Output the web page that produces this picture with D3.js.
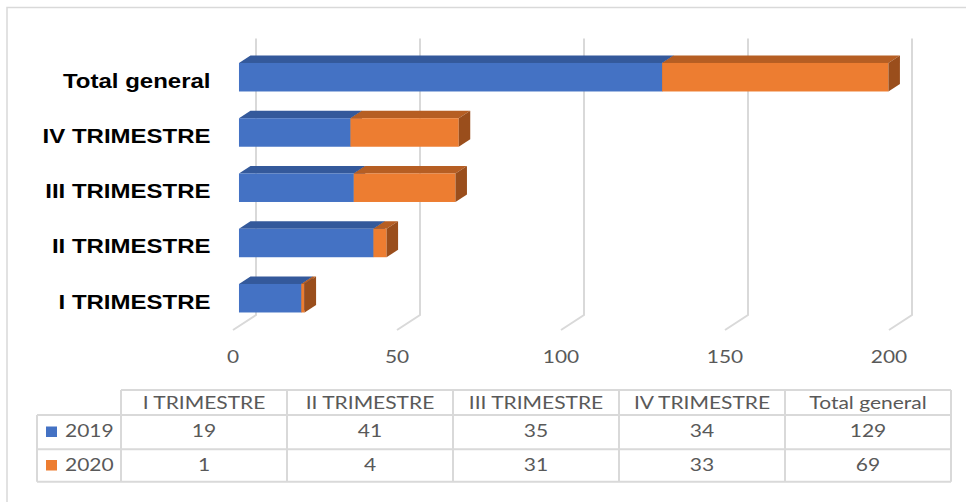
<!DOCTYPE html>
<html>
<head>
<meta charset="utf-8">
<script src="https://cdn.jsdelivr.net/npm/d3@7"></script>
<style>
  html, body { margin: 0; padding: 0; background: #fff; }
  svg { display: block; }
</style>
</head>
<body>
<svg id="chart" width="966" height="502"></svg>
<script>
// ---- data ----
const categories = ["I TRIMESTRE", "II TRIMESTRE", "III TRIMESTRE", "IV TRIMESTRE", "Total general"];
const seriesNames = ["2019", "2020"];
const values2019 = [19, 41, 35, 34, 129];
const values2020 = [1, 4, 31, 33, 69];
const xTicks = [0, 50, 100, 150, 200];
const seriesColors = ["#4472C4", "#ED7D31"];
const seriesTop = ["#34599B", "#B65E23"];
const seriesSide = ["#2C4C86", "#9A4E1C"];

// ---- layout ----
const svg = d3.select("#chart");
const frontX0 = 233, frontY0 = 330;       // front floor origin
const depthDX = 23, depthDY = -15;         // full depth offset of the floor/wall
const wallTop = 38.5;
const barD0 = 0.26, barD1 = 0.76;          // bar depth (fraction of full depth)
const labelSX = 1.2;                       // horizontal stretch of bold labels
const axisSX = 1.16;                       // horizontal stretch of axis text
const tableSX = 1.2;                       // horizontal stretch of table text
const greyText = "#595959";
const lineGrey = "#d9d9d9";

const x = d3.scaleLinear().domain([0, 200]).range([0, 656]);
const y = d3.scaleBand().domain(categories.slice().reverse())
  .range([49.6, 325.85]).paddingInner(0.484).paddingOuter(0.242);

// frame
svg.append("rect").attr("x", 7).attr("y", 7.5).attr("width", 1000).attr("height", 600)
  .attr("fill", "none").attr("stroke", lineGrey).attr("stroke-width", 1.5);

// gridlines (back wall + floor diagonal)
const grid = svg.append("g");
xTicks.forEach(t => {
  const bx = frontX0 + depthDX + x(t), by = frontY0 + depthDY;
  grid.append("path")
    .attr("d", `M${bx},${wallTop} L${bx},${by} L${frontX0 + x(t)},${frontY0}`)
    .attr("fill", "none").attr("stroke", lineGrey).attr("stroke-width", 2);
});

// axis tick labels
const axisG = svg.append("g");
xTicks.forEach(t => {
  axisG.append("text")
    .attr("transform", `translate(${frontX0 + x(t)},363) scale(${axisSX},1)`)
    .attr("text-anchor", "middle")
    .attr("font-family", "Lato, 'Open Sans', sans-serif")
    .attr("font-size", 18).attr("fill", greyText)
    .text(t);
});

// bars
const barsG = svg.append("g");
const ddx = depthDX * (barD1 - barD0), ddy = depthDY * (barD1 - barD0);
const bx0 = frontX0 + depthDX * barD0;
categories.forEach((c, i) => {
  const vals = [values2019[i], values2020[i]];
  let start = 0;
  const yt = y(c), yb = y(c) + y.bandwidth();
  vals.forEach((v, s) => {
    const xa = bx0 + x(start), xb = bx0 + x(start + v);
    // top
    barsG.append("path")
      .attr("d", `M${xa},${yt} L${xa + ddx},${yt + ddy} L${xb + ddx},${yt + ddy} L${xb},${yt} Z`)
      .attr("fill", seriesTop[s]);
    // front
    barsG.append("rect").attr("x", xa).attr("y", yt).attr("width", xb - xa).attr("height", yb - yt)
      .attr("fill", seriesColors[s]);
    // side
    barsG.append("path")
      .attr("d", `M${xb},${yt} L${xb + ddx},${yt + ddy} L${xb + ddx},${yb + ddy} L${xb},${yb} Z`)
      .attr("fill", seriesSide[s]);
    start += v;
  });
});

// category labels
const labG = svg.append("g");
categories.forEach(c => {
  labG.append("text")
    .attr("transform", `translate(210.5,${y(c) + y.bandwidth() / 2 + 10.5}) scale(${labelSX},1)`)
    .attr("text-anchor", "end")
    .attr("font-family", "'Liberation Sans', Arial, sans-serif")
    .attr("font-weight", "bold").attr("font-size", 20).attr("fill", "#000")
    .text(c);
});

// data table
const tbl = svg.append("g");
const col = d3.scaleBand().domain(categories).range([121, 951]);
const rowY = [390, 415, 449.3, 481.7];
const legendX0 = 37;
// horizontal lines
tbl.append("line").attr("x1", 121).attr("x2", 951).attr("y1", rowY[0]).attr("y2", rowY[0]);
[1, 2, 3].forEach(r => tbl.append("line").attr("x1", legendX0).attr("x2", 951).attr("y1", rowY[r]).attr("y2", rowY[r]));
// vertical lines
tbl.append("line").attr("x1", legendX0).attr("x2", legendX0).attr("y1", rowY[1]).attr("y2", rowY[3]);
categories.forEach(c => tbl.append("line").attr("x1", col(c)).attr("x2", col(c)).attr("y1", rowY[0]).attr("y2", rowY[3]));
tbl.append("line").attr("x1", 951).attr("x2", 951).attr("y1", rowY[0]).attr("y2", rowY[3]);
tbl.selectAll("line").attr("stroke", lineGrey).attr("stroke-width", 2);

function cellText(tx, ty, str, anchor) {
  tbl.append("text")
    .attr("transform", `translate(${tx},${ty}) scale(${tableSX},1)`)
    .attr("text-anchor", anchor || "middle")
    .attr("font-family", "Lato, 'Open Sans', sans-serif")
    .attr("font-size", 17.5).attr("fill", greyText)
    .text(str);
}
categories.forEach(c => cellText(col(c) + col.bandwidth() / 2, 409, c));
const seriesVals = [values2019, values2020];
const rowBase = [437, 470.5];
seriesNames.forEach((sn, s) => {
  tbl.append("rect").attr("x", 46).attr("y", rowBase[s] - 10.5).attr("width", 11).attr("height", 10.5)
    .attr("fill", seriesColors[s]);
  cellText(65, rowBase[s], sn, "start");
  categories.forEach((c, i) => cellText(col(c) + col.bandwidth() / 2, rowBase[s], seriesVals[s][i]));
});
</script>
</body>
</html>
